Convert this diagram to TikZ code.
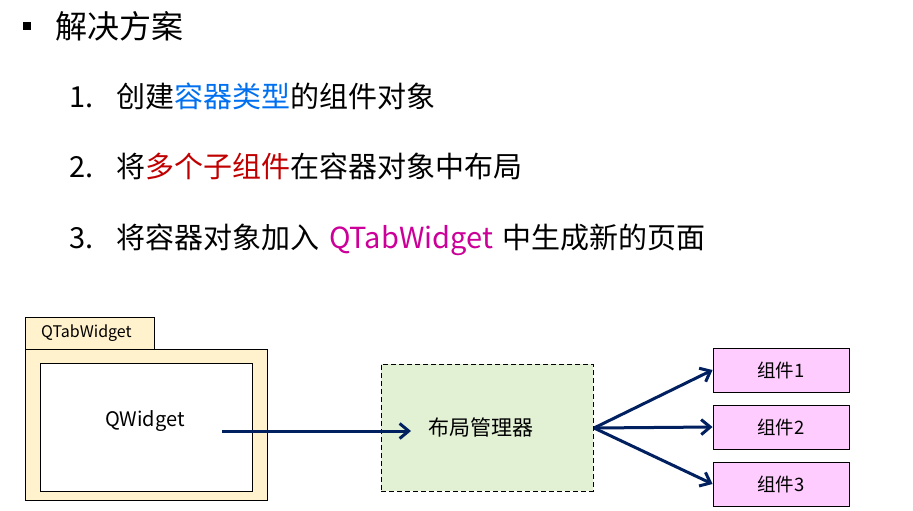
\documentclass[tikz,border=0pt]{standalone}
\usepackage{fontspec}
\setmainfont{Noto Sans CJK SC}
\usetikzlibrary{arrows.meta}
\definecolor{cblue}{HTML}{0070F0}
\definecolor{cred}{HTML}{C00000}
\definecolor{cmag}{HTML}{CC0099}
\definecolor{navy}{HTML}{002060}
\definecolor{tabfill}{HTML}{FFF2CC}
\definecolor{greenfill}{HTML}{E2F0D4}
\definecolor{pinkfill}{HTML}{FFCCFF}
\begin{document}
\begin{tikzpicture}[x=1pt,y=-1pt,
  item/.style={anchor=base west,inner sep=0pt,font=\fontsize{29}{31}\selectfont},
  comp/.style={draw=black,line width=0.9pt,fill=pinkfill,minimum width=136pt,minimum height=44pt,inner sep=0pt,font=\fontsize{18.5}{20}\selectfont},
  conn/.style={draw=navy,line width=3pt,-{Straight Barb[length=9pt,width=15pt,line width=3pt]}}]
\useasboundingbox (0,0) rectangle (913,511);
% bullet
\fill (23,22) rectangle (31,30);
\node[item,font=\fontsize{32}{34}\selectfont] (title) at (55,39) {解决方案};
\node[item] (n1) at (69,107) {1.};
\node[item] (t1) at (116,107) {创建\textcolor{cblue}{容器类型}的组件对象};
\node[item] (n2) at (69,177) {2.};
\node[item] (t2) at (116,177) {将\textcolor{cred}{多个子组件}在容器对象中布局};
\node[item] (n3) at (69,248) {3.};
\node[item] (t3) at (116,248) {将容器对象加入\hspace{10pt}\textcolor{cmag}{QTabWidget}\hspace{9pt}中生成新的页面};
% QTabWidget
\draw[line width=0.9pt,fill=tabfill] (25,317) rectangle (154,349);
\node[font=\fontsize{16}{18}\selectfont,anchor=west,inner sep=0pt] (tablabel) at (41,333) {QTabWidget};
\draw[line width=0.9pt,fill=tabfill] (25,349) rectangle (267,500);
\draw[line width=0.9pt,fill=white] (40,363) rectangle (252,491);
\node[font=\fontsize{20}{22}\selectfont] (qw) at (145,421) {QWidget};
\coordinate (qwstart) at (222,431);
% layout manager
\node[draw=black,line width=0.9pt,dash pattern=on 5pt off 3pt,fill=greenfill,minimum width=212pt,minimum height=127pt,inner sep=0pt,font=\fontsize{21}{23}\selectfont] (lm) at (487,427.5) {\hspace*{-12pt}布局管理器};
\coordinate (lmin) at (411,431);
\draw[conn] (qwstart) -- (lmin);
% components
\node[comp] (c1) at (781,370) {组件1};
\node[comp] (c2) at (781,427) {组件2};
\node[comp] (c3) at (781,484) {组件3};
\coordinate (lmout) at (594,428);
\draw[conn] (lmout) -- (c1.west);
\draw[conn] (lmout) -- (c2.west);
\draw[conn] (lmout) -- (c3.west);
\end{tikzpicture}
\end{document}
